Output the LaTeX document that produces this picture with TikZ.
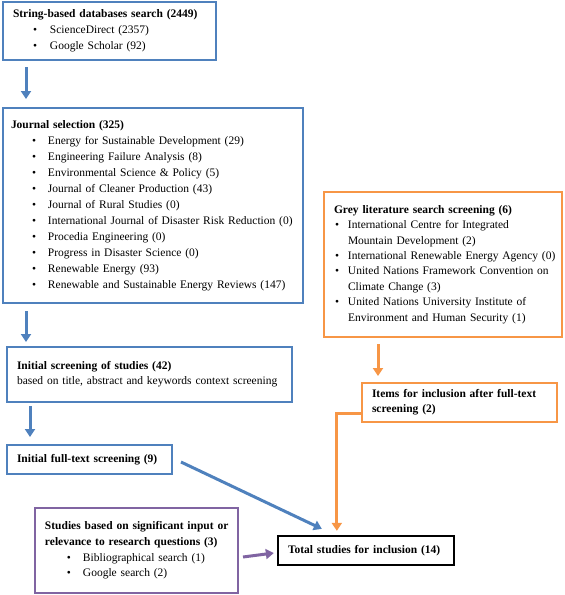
\documentclass[tikz,border=0pt]{standalone}
\usepackage{fontspec}
\setmainfont{Liberation Serif}
\usetikzlibrary{arrows.meta}
\definecolor{flowblue}{RGB}{79,129,189}
\definecolor{flowgold}{RGB}{247,150,70}
\definecolor{flowviolet}{RGB}{128,100,162}
\newcommand{\head}[1]{\mbox{\bfseries #1}}
\newcommand{\bitem}[3]{\mbox{\hspace*{#1}\makebox[#2][l]{\textbullet}#3}}

\begin{document}
\begin{tikzpicture}[x=1pt,y=-1pt,
  box/.style={line width=2pt,fill=white,align=left,inner xsep=10pt,inner ysep=0pt,font=\fontsize{11.5}{16}\selectfont},
  bluebox/.style={box,draw=flowblue},
  goldbox/.style={box,draw=flowgold,font=\fontsize{11.5}{15.4}\selectfont},
  violetbox/.style={box,draw=flowviolet,font=\fontsize{11.5}{15.6}\selectfont},
  finalbox/.style={box,draw=black,line width=2.3pt},
  arr/.style={-{Triangle[length=8pt,width=10pt]},line width=3pt},
  bluearr/.style={arr,flowblue},
  goldarr/.style={arr,flowgold},
  violetarr/.style={arr,flowviolet}
]
\useasboundingbox (0,0) rectangle (565,595);
\node[bluebox,text width=193pt,minimum height=58pt] (search) at (109.5,31) {\head{String-based databases search (2449)}\\
  \bitem{20pt}{17pt}{ScienceDirect (2357)}\\
  \bitem{20pt}{17pt}{Google Scholar (92)}};
\node[bluebox,inner xsep=8pt,text width=284pt,minimum height=195pt] (journal) at (153,205.5) {\head{Journal selection (325)}\\
  \bitem{21pt}{16pt}{Energy for Sustainable Development (29)}\\
  \bitem{21pt}{16pt}{Engineering Failure Analysis (8)}\\
  \bitem{21pt}{16pt}{Environmental Science \& Policy (5)}\\
  \bitem{21pt}{16pt}{Journal of Cleaner Production (43)}\\
  \bitem{21pt}{16pt}{Journal of Rural Studies (0)}\\
  \bitem{21pt}{16pt}{International Journal of Disaster Risk Reduction (0)}\\
  \bitem{21pt}{16pt}{Procedia Engineering (0)}\\
  \bitem{21pt}{16pt}{Progress in Disaster Science (0)}\\
  \bitem{21pt}{16pt}{Renewable Energy (93)}\\
  \bitem{21pt}{16pt}{Renewable and Sustainable Energy Reviews (147)}};
\node[bluebox,font=\fontsize{11.5}{15}\selectfont,text width=265pt,minimum height=55pt] (initial) at (149.5,374.5) {\head{Initial screening of studies (42)}\\
  \mbox{based on title, abstract and keywords context screening}};
\node[bluebox,text width=145pt,minimum height=29pt] (fulltext) at (89.5,459.5) {\head{Initial full-text screening (9)}};
\node[goldbox,text width=218pt,minimum height=145pt] (grey) at (443,264.5) {\head{Grey literature search screening (6)}\\
  \bitem{1pt}{13pt}{International Centre for Integrated}\\
  \hspace*{14pt}Mountain Development (2)\\
  \bitem{1pt}{13pt}{International Renewable Energy Agency (0)}\\
  \bitem{1pt}{13pt}{United Nations Framework Convention on}\\
  \hspace*{14pt}Climate Change (3)\\
  \bitem{1pt}{13pt}{United Nations University Institute of}\\
  \hspace*{14pt}Environment and Human Security (1)};
\node[goldbox,font=\fontsize{11.5}{15}\selectfont,text width=175pt,minimum height=39pt] (items) at (459.5,402.5) {\head{Items for inclusion after full-text}\\
  \head{screening (2)}};
\node[violetbox,text width=183pt,minimum height=85pt] (extra) at (136.5,550.5) {\head{Studies based on significant input or}\\
  \head{relevance to research questions (3)}\\
  \bitem{22pt}{16pt}{Bibliographical search (1)}\\
  \bitem{22pt}{16pt}{Google search (2)}};
\node[finalbox,text width=156pt,minimum height=29pt] (total) at (366,550.5) {\head{Total studies for inclusion (14)}};
% connectors
\draw[bluearr] ([xshift=24pt,yshift=-6pt]search.south west) -- ([xshift=24pt,yshift=8pt]journal.north west);
\draw[bluearr] ([xshift=24pt,yshift=-7pt]journal.south west) -- ([xshift=20pt,yshift=4pt]initial.north west);
\draw[bluearr] ([xshift=24pt,yshift=-3pt]initial.south west) -- ([xshift=24pt,yshift=7pt]fulltext.north west);
\draw[bluearr] ([xshift=8pt,yshift=-2.5pt]fulltext.east) -- ([xshift=45pt,yshift=6pt]total.north west);
\draw[goldarr] ([xshift=55pt,yshift=-6pt]grey.south west) -- ([xshift=17pt,yshift=6pt]items.north west);
\draw[goldarr] ([yshift=10pt]items.south west) -| ([xshift=60pt,yshift=4pt]total.north west);
\draw[violetarr] ([xshift=4pt,yshift=-6.5pt]extra.east) -- ([xshift=-3pt,yshift=-2.5pt]total.west);
\end{tikzpicture}
\end{document}
